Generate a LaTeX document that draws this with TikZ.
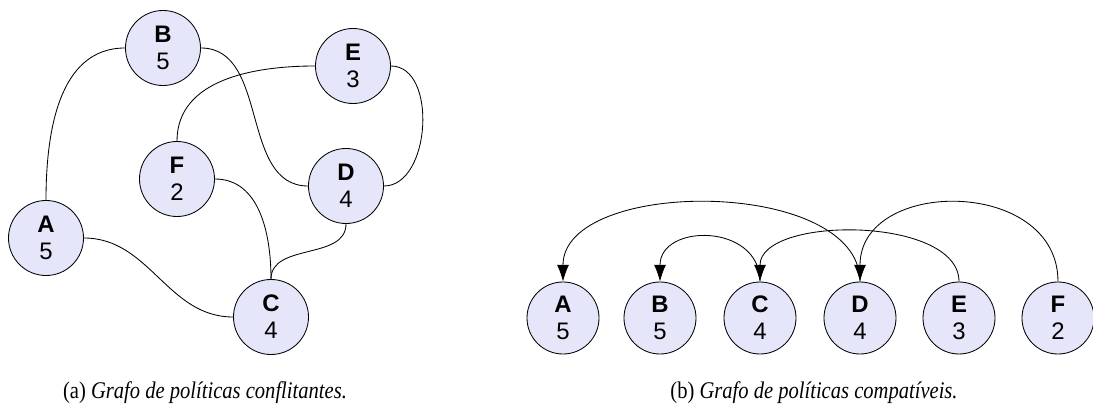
\documentclass[tikz,border=0pt]{standalone}
\usepackage{fontspec}
\setmainfont{Liberation Serif}
\setsansfont{Liberation Sans}
\usepackage{tikz}
\usetikzlibrary{arrows.meta, positioning}

\definecolor{polfill}{HTML}{E6E6FA}

\tikzset{
    pol/.style={circle, draw, fill=polfill, line width=0.6pt, align=center,
                inner sep=0pt, font=\sffamily\fontsize{17}{19}\selectfont},
    big/.style={minimum size=1.875cm},
    small/.style={minimum size=1.8cm},
    conf/.style={line width=0.6pt},
    comp/.style={line width=0.6pt, -{Latex[length=4.2mm,width=3mm]}},
    legenda/.style={font=\fontsize{17}{20}\selectfont, anchor=base}
}

\begin{document}
\begin{tikzpicture}[x=0.025cm, y=0.025cm]
                    \useasboundingbox (0,0) rectangle (1093,415);

                    % politicas conflitantes
                    \node[pol, big] (A) at (46, 177) {\textbf{A}\\5};
                    \node[pol, big] (B) at (163, 367) {\textbf{B}\\5};
                    \node[pol, big] (E) at (353, 349) {\textbf{E}\\3};
                    \node[pol, big] (F) at (177, 236) {\textbf{F}\\2};
                    \node[pol, big] (D) at (346, 229) {\textbf{D}\\4};
                    \node[pol, big] (C) at (271, 98) {\textbf{C}\\4};

                    \draw[conf] (A.north) to[out=90, in=180] (B.west);
                    \draw[conf] (B.east) to[out=0, in=180] (D.west);
                    \draw[conf] (E.west) to[out=180, in=90] (F.north);
                    \draw[conf] (E.east) to[out=0, in=0] (D.east);
                    \draw[conf] (F.east) to[out=0, in=90] (C.north);
                    \draw[conf] (D.south) to[out=-90, in=90] (C.north);
                    \draw[conf] (A.east) to[out=0, in=180] (C.west);

                    % politicas compativeis
                    \node[pol, small] (a) at (563, 97) {\textbf{A}\\5};
                    \node[pol, small] (b) at (660, 97) {\textbf{B}\\5};
                    \node[pol, small] (c) at (760, 97) {\textbf{C}\\4};
                    \node[pol, small] (d) at (860, 97) {\textbf{D}\\4};
                    \node[pol, small] (e) at (959, 97) {\textbf{E}\\3};
                    \node[pol, small] (f) at (1058, 97) {\textbf{F}\\2};

                    \draw[comp] (d.north) to[out=90, in=90, looseness=0.9] (a.north);
                    \draw[comp] (c.north) to[out=90, in=90, looseness=1.5] (b.north);
                    \draw[comp] (e.north) to[out=90, in=90, looseness=0.85] (c.north);
                    \draw[comp] (f.north) to[out=90, in=90, looseness=1.35] (d.north);

                    % legendas
                    \node[legenda] (capa) at (205, 17) {\scalebox{0.86}[1]{(a) \textit{Grafo de políticas conflitantes.}}};
                    \node[legenda] (capb) at (814, 17) {\scalebox{0.86}[1]{(b) \textit{Grafo de políticas compatíveis.}}};
                \end{tikzpicture}
\end{document}
